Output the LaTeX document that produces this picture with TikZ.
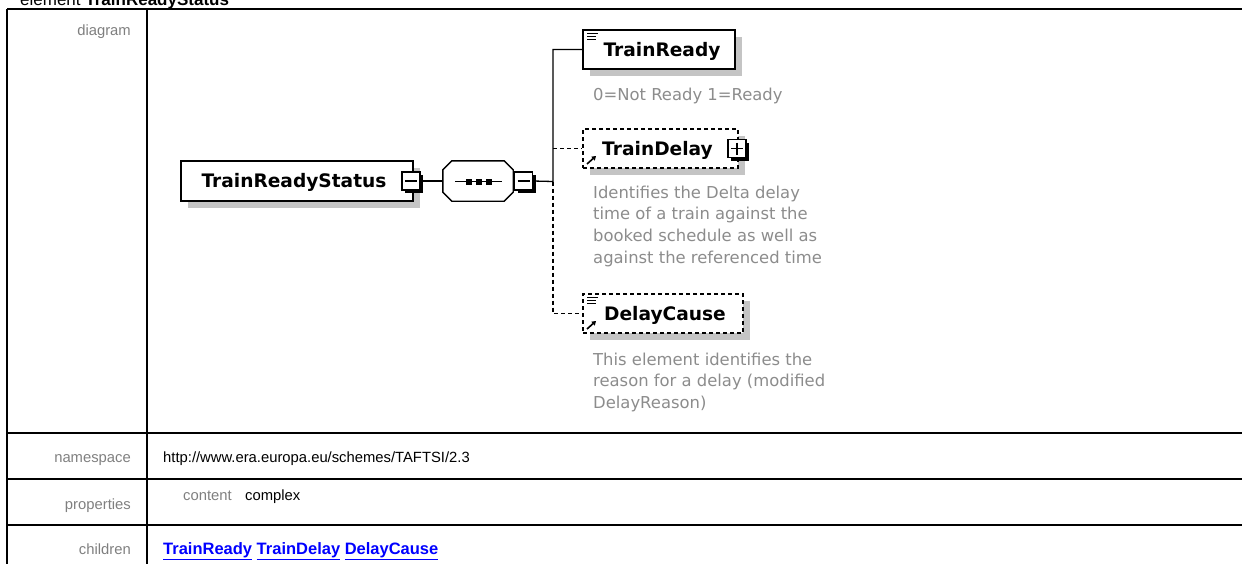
\documentclass[tikz,border=0pt]{standalone}
\usepackage{fontspec}
\setmainfont{Liberation Sans}
\newfontfamily\dvs{DejaVu Sans}
\usetikzlibrary{arrows.meta,shadows,calc}
\definecolor{shadowgray}{HTML}{C4C4C4}
\definecolor{labelgray}{HTML}{7F7F7F}
\definecolor{descgray}{HTML}{8C8C8C}
\definecolor{linkblue}{HTML}{0000FF}
\begin{document}
\begin{tikzpicture}[x=1pt,y=-1pt,
  tbl/.style={line width=2.4pt},
  ebox/.style={draw, line width=1.4pt, fill=white, inner sep=0,
    drop shadow={shadow xshift=7pt,shadow yshift=-7pt,fill=shadowgray,draw=none,opacity=1}},
  dbox/.style={ebox, dash pattern=on 4pt off 3pt},
  ename/.style={font=\dvs\bfseries\fontsize{18.6}{20}\selectfont, anchor=base, inner sep=0},
  desc/.style={font=\dvs\fontsize{16.4}{20}\selectfont, text=descgray, anchor=base west, inner sep=0},
  lbl/.style={font=\fontsize{14.8}{18}\selectfont, text=labelgray, anchor=base east, inner sep=0},
  val/.style={font=\fontsize{14.8}{18}\selectfont, anchor=base west, inner sep=0},
  conn/.style={line width=1.3pt},
  dconn/.style={line width=1.3pt, dash pattern=on 4pt off 3pt},
  pmbox/.style={draw, fill=white, line width=1.1pt, minimum size=18pt, inner sep=0,
    drop shadow={shadow xshift=3pt,shadow yshift=-3pt,fill=black,draw=none,opacity=1}},
  icon/.style={line width=1pt},
  refarrow/.style={line width=1.6pt, -{Triangle[length=4pt,width=5pt]}}
]
\useasboundingbox (0,0) rectangle (1242,563);

% ---------- title (cut off at top) ----------
\node[anchor=base west, inner sep=0, font=\fontsize{17}{20}\selectfont] (title) at (20,5) {element \textbf{TrainReadyStatus}};

% ---------- table ----------
\draw[tbl] (7,9) -- (1250,9);
\draw[tbl] (7,9) -- (7,570);
\draw[tbl] (147,9) -- (147,570);
\draw[tbl] (7,433) -- (1250,433);
\draw[tbl] (7,479) -- (1250,479);
\draw[tbl] (7,525) -- (1250,525);

\node[lbl] (ldiagram) at (131,35) {diagram};
\node[lbl] (lns) at (131,462) {namespace};
\node[val] (vns) at (163,462) {http://www.era.europa.eu/schemes/TAFTSI/2.3};
\node[lbl] (lprop) at (131,509) {properties};
\node[val, text=labelgray] (vcontent) at (183,500) {content};
\node[val] (vcomplex) at (245,500) {complex};
\node[lbl] (lchild) at (131,554) {children};
\node[val, text=linkblue, font=\fontsize{16.5}{18}\selectfont\bfseries] (vchild) at (163,554)
  {\underline{TrainReady} \underline{TrainDelay} \underline{DelayCause}};

% ---------- diagram: root element ----------
\node[ebox, minimum width=232pt, minimum height=40pt] (trs) at (297,181) {};
\node[ename] (trst) at (294,187.5) {TrainReadyStatus};
\node[pmbox] (trsm) at (411,181) {};
\draw[line width=1.1pt] ($(trsm.center)+(-6,0)$) -- ($(trsm.center)+(6,0)$);

% ---------- sequence compositor ----------
\node[minimum width=70pt, minimum height=40pt, inner sep=0] (seq) at (478,181) {};
\fill[shadowgray, shift={(7,7)}]
  ($(seq.north west)+(9,0)$) -- ($(seq.north east)+(-9,0)$) -- ($(seq.north east)+(0,9)$) --
  ($(seq.south east)+(0,-9)$) -- ($(seq.south east)+(-9,0)$) -- ($(seq.south west)+(9,0)$) --
  ($(seq.south west)+(0,-9)$) -- ($(seq.north west)+(0,9)$) -- cycle;
\draw[line width=1.4pt, fill=white]
  ($(seq.north west)+(9,0)$) -- ($(seq.north east)+(-9,0)$) -- ($(seq.north east)+(0,9)$) --
  ($(seq.south east)+(0,-9)$) -- ($(seq.south east)+(-9,0)$) -- ($(seq.south west)+(9,0)$) --
  ($(seq.south west)+(0,-9)$) -- ($(seq.north west)+(0,9)$) -- cycle;
\draw[line width=1.3pt] (455,181.5) -- (502,181.5);
\foreach \dx in {469,479,489} \fill (\dx-3,178.5) rectangle (\dx+3,184.5);
\node[pmbox] (seqm) at (523.5,181) {};
\draw[line width=1.1pt] ($(seqm.center)+(-6,0)$) -- ($(seqm.center)+(6,0)$);

% ---------- child elements ----------
\node[ebox, minimum width=152pt, minimum height=39pt] (tr) at (659,49.5) {};
\node[ename] (trt) at (662,56) {TrainReady};
\draw[icon] (587,33.5) -- (598,33.5) (587,36.5) -- (596,36.5) (587,39.5) -- (596,39.5);
\node[desc] (trd) at (593,100) {0=Not Ready 1=Ready};

\node[dbox, minimum width=155pt, minimum height=39pt] (td) at (660.5,148.5) {};
\node[ename] (tdt) at (657.5,155) {TrainDelay};
\node[pmbox] (tdp) at (737,148.5) {};
\draw[line width=1.1pt] ($(tdp.center)+(-6,0)$) -- ($(tdp.center)+(6,0)$)
  ($(tdp.center)+(0,-6)$) -- ($(tdp.center)+(0,6)$);
\draw[refarrow] (587,164) -- (596,156);
\node[desc] (tdd1) at (593,198) {Identifies the Delta delay};
\node[desc] (tdd2) at (593,219.7) {time of a train against the};
\node[desc] (tdd3) at (593,241.4) {booked schedule as well as};
\node[desc] (tdd4) at (593,263) {against the referenced time};

\node[dbox, minimum width=160pt, minimum height=39pt] (dc) at (663,313.5) {};
\node[ename] (dct) at (665,320) {DelayCause};
\draw[icon] (587,297) -- (598,297) (587,300) -- (596,300) (587,303) -- (596,303);
\draw[refarrow] (587,329) -- (596,321);
\node[desc] (dcd1) at (593,365) {This element identifies the};
\node[desc] (dcd2) at (593,386.7) {reason for a delay (modified};
\node[desc] (dcd3) at (593,408.4) {DelayReason)};

% ---------- connectors ----------
\coordinate (bus) at (553,181.5);
\coordinate (bustop) at (553,49.5);
\coordinate (busmid) at (553,148.5);
\coordinate (busbot) at (553,313.5);
\draw[conn] (trsm.east) -- (seq.west);
\draw[conn] (seqm.east) -- (bus) -- (bustop) -- (tr.west);
\draw[dconn] (bus) -- (busbot) -- (dc.west);
\draw[dconn] (busmid) -- (td.west);
\end{tikzpicture}
\end{document}
